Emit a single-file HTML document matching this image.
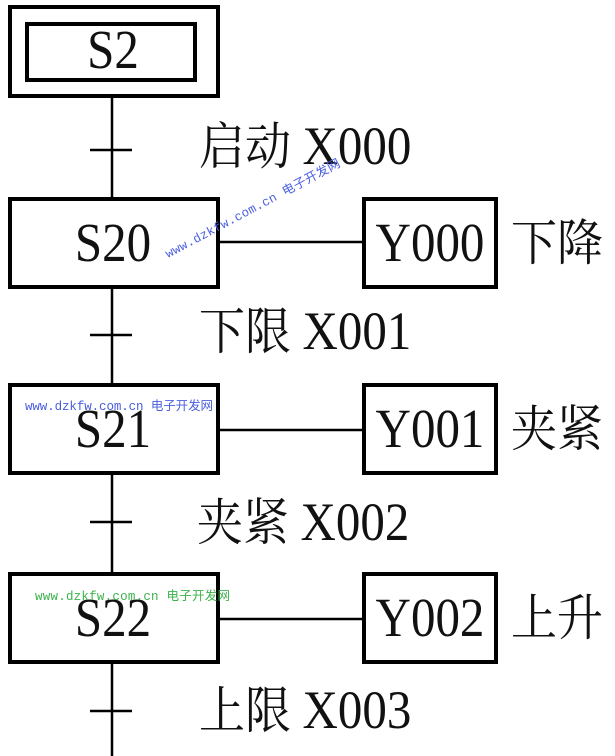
<!DOCTYPE html>
<html><head><meta charset="utf-8"><style>
body{margin:0;background:#fff;}
svg{display:block}
.t{font-family:"Liberation Serif","Noto Serif CJK SC",serif;font-size:49px;fill:#111;}
.c{font-family:"Liberation Serif","Noto Serif CJK SC",serif;font-size:46px;fill:#111;}
.w{font-family:"Liberation Mono","Noto Sans CJK SC",monospace;font-size:12.5px;}
</style></head><body>
<svg width="615" height="756" viewBox="0 0 615 756">
<g stroke="#000" fill="none">
<line x1="112" y1="97" x2="112" y2="756" stroke-width="2.5"/>
<line x1="90" y1="150" x2="132" y2="150" stroke-width="2.5"/>
<line x1="90" y1="335" x2="132" y2="335" stroke-width="2.5"/>
<line x1="90" y1="522" x2="132" y2="522" stroke-width="2.5"/>
<line x1="90" y1="711" x2="132" y2="711" stroke-width="2.5"/>
<rect x="10" y="7" width="208" height="89" stroke-width="4" fill="#fff"/>
<rect x="27" y="24" width="168" height="56" stroke-width="4"/>
<rect x="10" y="199" width="208" height="88" stroke-width="4" fill="#fff"/>
<rect x="10" y="385" width="208" height="88" stroke-width="4" fill="#fff"/>
<rect x="10" y="574" width="208" height="88" stroke-width="4" fill="#fff"/>
<rect x="364" y="199" width="132" height="88" stroke-width="4"/>
<rect x="364" y="385" width="132" height="88" stroke-width="4"/>
<rect x="364" y="574" width="132" height="88" stroke-width="4"/>
<line x1="218" y1="242" x2="364" y2="242" stroke-width="2.5"/>
<line x1="218" y1="430" x2="364" y2="430" stroke-width="2.5"/>
<line x1="218" y1="619" x2="364" y2="619" stroke-width="2.5"/>
</g>
<g transform="translate(113,68) scale(1,1.12)"><text class="t" text-anchor="middle">S2</text></g>
<g transform="translate(113,261) scale(1,1.12)"><text class="t" text-anchor="middle">S20</text></g>
<g transform="translate(113,447) scale(1,1.12)"><text class="t" text-anchor="middle">S21</text></g>
<g transform="translate(113,636) scale(1,1.12)"><text class="t" text-anchor="middle">S22</text></g>
<g transform="translate(430,261) scale(1,1.12)"><text class="t" text-anchor="middle">Y000</text></g>
<g transform="translate(430,447) scale(1,1.12)"><text class="t" text-anchor="middle">Y001</text></g>
<g transform="translate(430,636) scale(1,1.12)"><text class="t" text-anchor="middle">Y002</text></g>
<g transform="translate(511,260) scale(1,1.08)"><text class="c">下降</text></g>
<g transform="translate(511,446) scale(1,1.08)"><text class="c">夹紧</text></g>
<g transform="translate(511,635) scale(1,1.08)"><text class="c">上升</text></g>
<g transform="translate(199,164) scale(1,1.1)"><text class="c">启动 <tspan class="t">X000</tspan></text></g>
<g transform="translate(199,349) scale(1,1.1)"><text class="c">下限 <tspan class="t">X001</tspan></text></g>
<g transform="translate(197,540) scale(1,1.1)"><text class="c">夹紧 <tspan class="t">X002</tspan></text></g>
<g transform="translate(199,728) scale(1,1.1)"><text class="c">上限 <tspan class="t">X003</tspan></text></g>
<text class="w" x="168" y="258" fill="#4a5ee0" transform="rotate(-28 168 258)" textLength="196">www.dzkfw.com.cn 电子开发网</text>
<text class="w" x="25" y="410" fill="#4a5ee0" textLength="188">www.dzkfw.com.cn 电子开发网</text>
<text class="w" x="35" y="600" fill="#3bb34a" textLength="195">www.dzkfw.com.cn 电子开发网</text>
</svg>
</body></html>
